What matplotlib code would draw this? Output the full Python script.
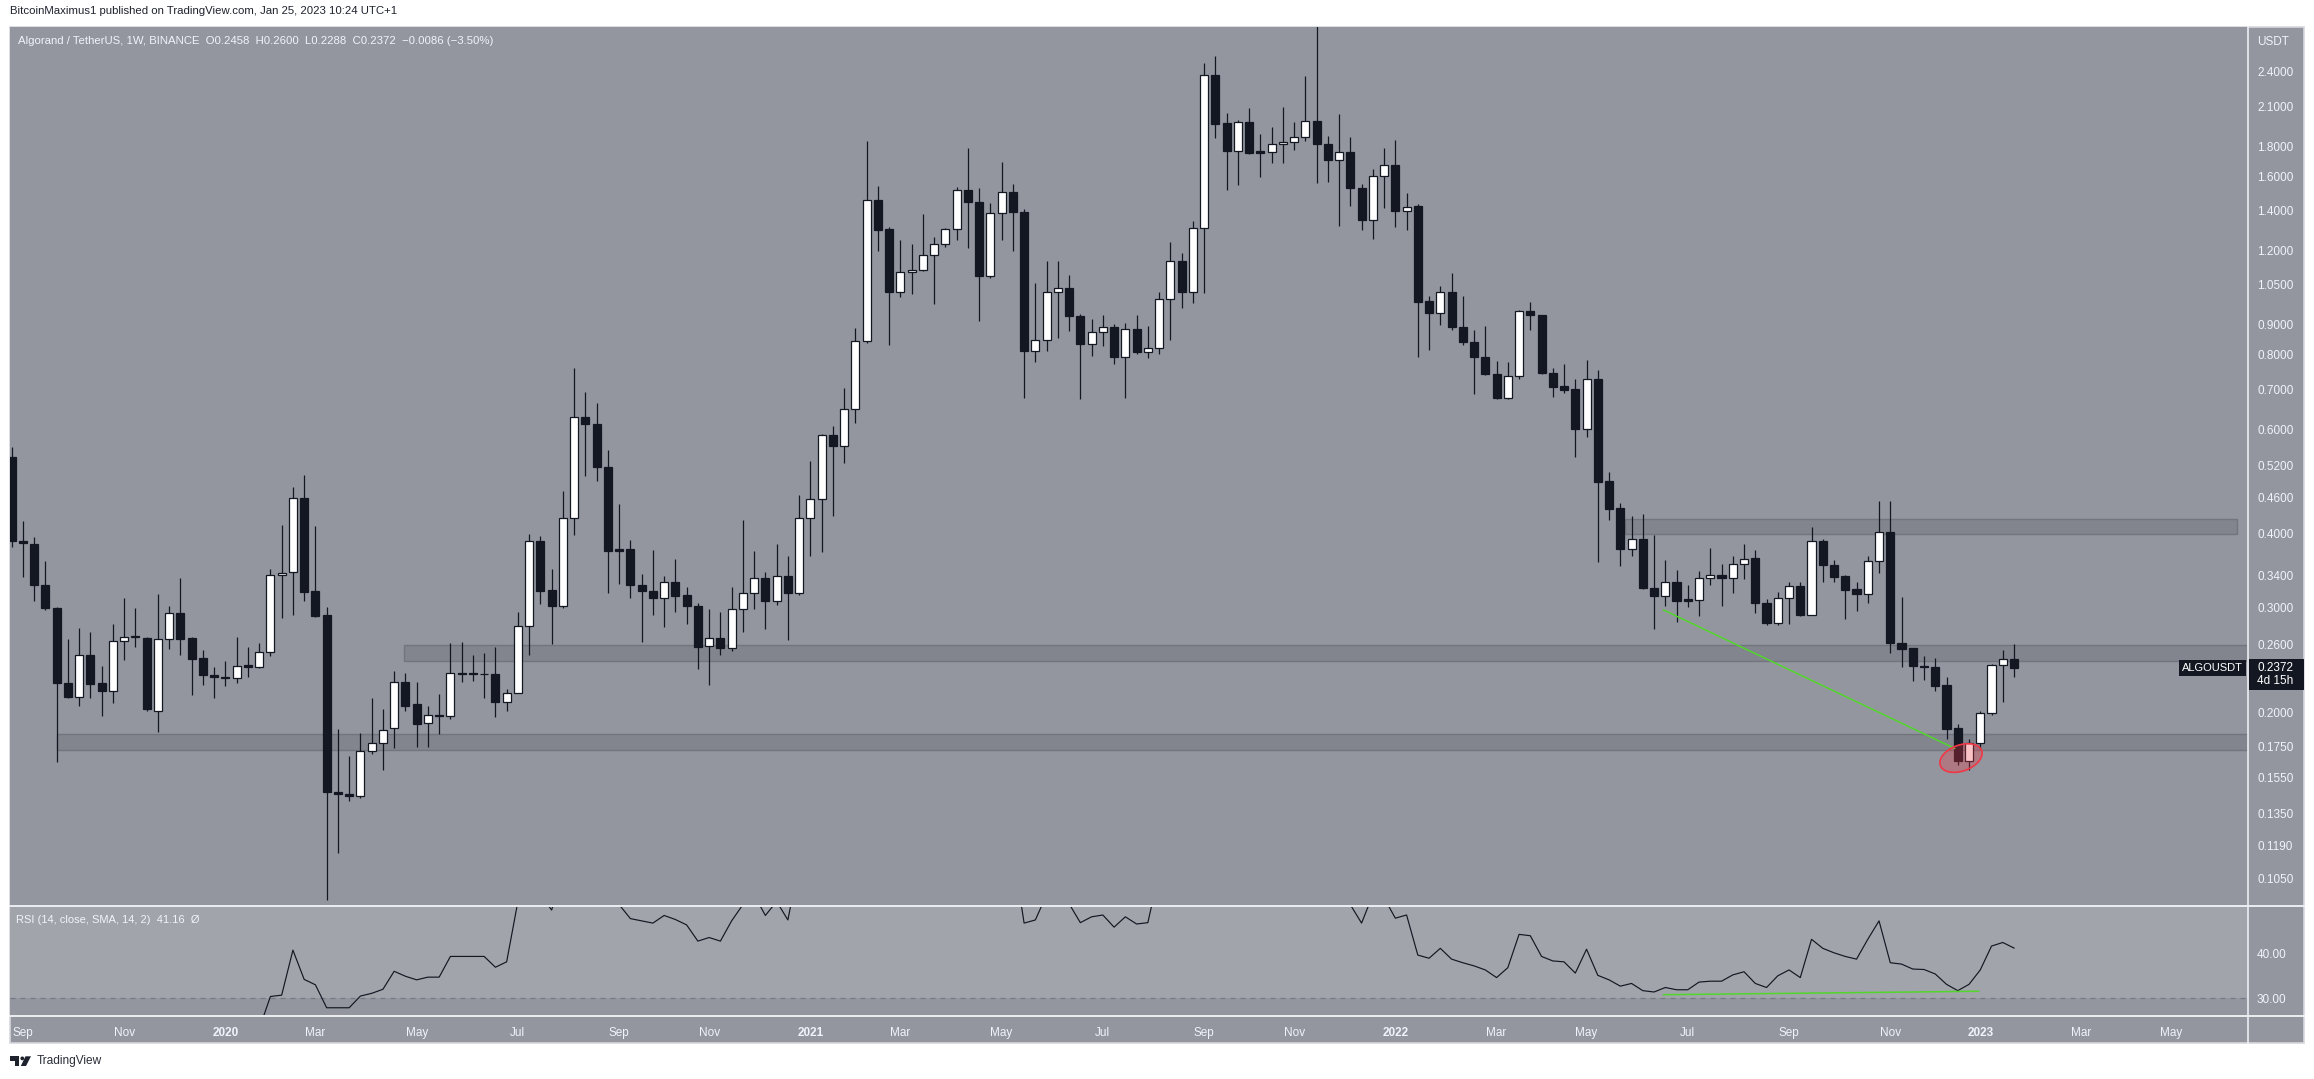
import numpy as np
import pandas as pd
import matplotlib
matplotlib.use('Agg')
import matplotlib.pyplot as plt
from matplotlib.patches import Rectangle, Ellipse, Polygon, Circle
from matplotlib.lines import Line2D
from matplotlib.transforms import IdentityTransform
from matplotlib.ticker import NullLocator

plt.rcParams['font.family'] = ['Liberation Sans', 'DejaVu Sans']

# ALGO/USDT weekly candles, first bar = week of 2019-08-26
first_week = '2019-08-26'
opens = [.539, .389, .384, .328, .300, .224, .212, .250, .224, .217,
         .264, .268, .267, .201, .266, .294, .267, .247, .231, .229,
         .228, .240, .238, .2525, .340, .344, .459, .320, .291, .1469,
         .1454, .1444, .1717, .1773, .1879, .225, .206, .1919, .198, .197,
         .233, .2323, .2321, .2318, .208, .2154, .279, .388, .3207, .302,
         .424, .628, .612, .517, .376, .376, .327, .320, .311, .331,
         .3146, .302, .258, .2666, .256, .298, .317, .336, .308, .339,
         .318, .424, .457, .586, .561, .649, .843, 1.462, 1.302, 1.020,
         1.102, 1.114, 1.177, 1.232, 1.306, 1.516, 1.451, 1.089, 1.386, 1.508,
         1.391, .813, .847, 1.021, 1.036, .932, .834, .876, .893, .794,
         .886, .8105, .823, .993, 1.154, 1.020, 1.310, 2.369, 1.967, 1.768,
         1.980, 1.765, 1.759, 1.812, 1.826, 1.864, 1.987, 1.818, 1.707, 1.759,
         1.531, 1.353, 1.601, 1.671, 1.400, 1.424, .985, .942, 1.020, .891,
         .842, .795, .743, .678, .738, .948, .933, .747, .709, .700,
         .599, .728, .490, .441, .377, .391, .324, .314, .331, .3096,
         .309, .336, .340, .336, .356, .364, .306, .2824, .312, .326,
         .292, .388, .3535, .339, .322, .316, .360, .402, .262, .256,
         .2396, .2384, .2222, .1879, .1652, .1773, .1995, .2399, .2458]
highs = [.560, .420, .395, .360, .301, .266, .277, .273, .239, .281,
         .311, .300, .268, .316, .302, .336, .268, .254, .238, .244,
         .268, .257, .261, .348, .413, .480, .502, .412, .301, .187,
         .1687, .1843, .211, .202, .235, .233, .225, .205, .2146, .261,
         .263, .250, .2515, .257, .219, .295, .399, .396, .348, .472,
         .760, .692, .664, .553, .449, .390, .342, .375, .339, .363,
         .325, .306, .298, .295, .325, .421, .374, .345, .384, .367,
         .464, .530, .589, .606, .703, .887, 1.836, 1.540, 1.314, 1.249,
         1.231, 1.383, 1.263, 1.310, 1.538, 1.790, 1.527, 1.443, 1.692, 1.551,
         1.409, 1.056, 1.151, 1.151, 1.090, .939, .921, .936, .901, .905,
         .933, .894, 1.021, 1.240, 1.188, 1.344, 2.485, 2.550, 2.047, 1.992,
         2.088, 1.886, 1.938, 2.096, 1.977, 2.362, 3.000, 1.872, 2.039, 1.864,
         1.554, 1.646, 1.786, 1.840, 1.500, 1.437, 1.005, 1.045, 1.100, 1.005,
         .881, .895, .782, .779, .951, .983, .935, .760, .773, .728,
         .785, .754, .508, .451, .428, .431, .398, .361, .347, .328,
         .346, .378, .356, .367, .384, .375, .3096, .319, .331, .332,
         .410, .392, .3605, .340, .332, .367, .453, .4545, .313, .2565,
         .249, .2464, .229, .1909, .1798, .201, .2414, .2545, .2600]
lows = [.380, .338, .308, .297, .165, .211, .205, .211, .197, .207,
        .245, .257, .201, .185, .255, .250, .214, .222, .211, .221,
        .224, .229, .237, .249, .288, .291, .308, .289, .0964, .1155,
        .1414, .1434, .1697, .1596, .1737, .201, .1747, .1747, .1838, .195,
        .225, .226, .211, .1964, .201, .215, .250, .304, .260, .299,
        .397, .501, .491, .317, .329, .312, .263, .292, .278, .295,
        .282, .236, .222, .250, .2535, .273, .298, .276, .303, .265,
        .315, .367, .372, .428, .525, .615, .839, 1.197, .832, 1.002,
        1.014, 1.107, .975, 1.218, 1.251, 1.213, .913, 1.080, 1.251, 1.197,
        .678, .778, .813, .855, .879, .673, .798, .829, .772, .676,
        .804, .792, .804, .848, .961, .977, 1.019, 1.859, 1.519, 1.548,
        1.747, 1.596, 1.685, 1.685, 1.773, 1.833, 1.559, 1.567, 1.319, 1.427,
        1.301, 1.255, 1.413, 1.316, 1.301, .795, .816, .898, .881, .831,
        .688, .740, .675, .675, .729, .882, .744, .680, .689, .538,
        .581, .358, .421, .353, .367, .322, .276, .3015, .284, .3006,
        .290, .327, .3015, .318, .335, .294, .280, .280, .281, .290,
        .2914, .331, .331, .287, .296, .306, .343, .252, .238, .2252,
        .2265, .2172, .1804, .1626, .160, .1733, .1976, .208, .2288]
closes = [.388, .385, .327, .299, .224, .212, .250, .223, .217, .264,
          .268, .2685, .202, .266, .294, .266, .246, .231, .229, .228,
          .239, .238, .2525, .340, .343, .459, .319, .290, .1469, .1454,
          .1444, .1717, .1773, .1869, .225, .205, .1909, .198, .197, .233,
          .2319, .2318, .2317, .208, .215, .279, .388, .320, .3015, .424,
          .628, .611, .517, .374, .374, .327, .320, .311, .331, .314,
          .3015, .2576, .2666, .256, .298, .317, .336, .308, .339, .318,
          .424, .457, .586, .561, .649, .843, 1.462, 1.299, 1.020, 1.103,
          1.114, 1.177, 1.232, 1.306, 1.516, 1.449, 1.088, 1.386, 1.508, 1.391,
          .813, .847, 1.020, 1.036, .932, .834, .876, .893, .794, .886,
          .810, .823, .993, 1.154, 1.020, 1.310, 2.369, 1.963, 1.768, 1.975,
          1.752, 1.754, 1.812, 1.826, 1.864, 1.987, 1.816, 1.707, 1.757, 1.531,
          1.353, 1.601, 1.671, 1.400, 1.422, .984, .942, 1.020, .891, .842,
          .795, .743, .678, .738, .948, .933, .747, .707, .699, .599,
          .728, .489, .440, .377, .391, .324, .314, .332, .308, .308,
          .336, .340, .336, .356, .363, .306, .2824, .312, .326, .292,
          .388, .3535, .338, .321, .316, .360, .402, .2616, .2555, .2394,
          .2386, .2217, .1876, .1652, .1773, .1995, .2399, .2455, .2372]

# RSI(14) as read from the lower pane (values outside the pane are estimates)
rsi = [24, 23, 21, 19, 16, 15, 19, 17, 17, 21,
       22, 23, 20, 23, 24, 23, 22, 21, 21, 21,
       22, 21, 23.2, 30.4, 30.7, 40.7, 34.2, 33.0, 27.9, 27.9,
       27.9, 30.5, 31.1, 32.0, 36.0, 34.9, 34.1, 34.7, 34.7, 39.3,
       39.3, 39.3, 39.3, 36.9, 38.1, 51.5, 62, 53, 49.6, 58,
       68, 67, 60, 53, 50.8, 47.7, 47.2, 46.7, 48.4, 47.5,
       46.3, 42.7, 43.5, 42.7, 47.2, 50.8, 53, 48.4, 51.5, 47.4,
       60, 62, 67, 65, 68, 73, 84, 76, 62, 64,
       65, 67, 68, 70, 73, 70, 58, 65, 67, 63,
       46.7, 47.4, 53, 53.5, 51, 46.8, 48.1, 48.5, 45.8, 48.1,
       46.5, 46.8, 58, 62, 57, 63, 75, 68, 63, 66,
       62, 61.5, 62, 62.5, 63, 65, 60, 57, 58, 50.8,
       46.7, 53, 52.3, 47.8, 48.5, 39.6, 38.9, 41.1, 38.7, 37.9,
       37.2, 36.3, 34.6, 36.8, 44.2, 43.9, 39.3, 38.3, 38.1, 35.6,
       40.9, 35.1, 34.1, 32.7, 33.3, 31.7, 31.4, 32.4, 31.9, 31.9,
       33.6, 33.8, 33.8, 35.2, 35.9, 33.3, 32.4, 35.0, 36.3, 34.6,
       43.1, 41.1, 40.1, 39.3, 38.7, 43.1, 47.2, 37.9, 37.6, 36.5,
       36.4, 35.4, 33.1, 31.7, 33.1, 36.3, 41.6, 42.4, 41.16]

price_ticks = [2.4, 2.1, 1.8, 1.6, 1.4, 1.2, 1.05, 0.9, 0.8, 0.7, 0.6, 0.52,
               0.46, 0.40, 0.34, 0.30, 0.26, 0.20, 0.175, 0.155, 0.135, 0.119, 0.105]
rsi_ticks = [30, 40]
tick_months = ['2019-09', '2019-11', '2020-01', '2020-03', '2020-05', '2020-07',
               '2020-09', '2020-11', '2021-01', '2021-03', '2021-05', '2021-07',
               '2021-09', '2021-11', '2022-01', '2022-03', '2022-05', '2022-07',
               '2022-09', '2022-11', '2023-01', '2023-03', '2023-05']
tick_labels = ['Sep', 'Nov', '2020', 'Mar', 'May', 'Jul', 'Sep', 'Nov', '2021', 'Mar',
               'May', 'Jul', 'Sep', 'Nov', '2022', 'Mar', 'May', 'Jul', 'Sep', 'Nov',
               '2023', 'Mar', 'May']

# drawn zones: (from, to, low price, high price); None = to the right edge
zones = [('2022-05-26', '2023-06-11', 0.400, 0.423),
         ('2020-04-26', None, 0.2435, 0.259),
         ('2019-09-23', None, 0.1723, 0.184)]
price_trend = [('2022-06-19', 0.2972), ('2022-12-17', 0.1737)]
rsi_trend = [('2022-06-19', 30.8), ('2023-01-01', 31.56)]
circle_at = ('2022-12-21', 0.1673)

W, H = 2314, 1079
BG = '#93969f'
RSI_BG = '#a1a4ab'
BAND = '#82858e'
BAND_EDGE = '#72757d'
DARK = '#131722'
LIGHT = '#f0f3fa'
SEP = '#eceef2'
GREEN = '#52d62b'


def fx(px):
    return px / W


def fy(py):
    return 1 - py / H


start = pd.Timestamp(first_week)


def wpos(d):
    return (pd.Timestamp(d) - start).days / 7


o = np.array(opens)
h = np.array(highs)
l = np.array(lows)
c = np.array(closes)
x = np.arange(len(c))

left, right, axis_right = 10, 2248, 2304
top, mid, low, bottom = 26.7, 906, 1016, 1043
x0, x1 = -0.15, 198.8

fig = plt.figure(figsize=(W / 100, H / 100), dpi=100, facecolor='white')
fig.add_artist(Rectangle((fx(left), fy(bottom)), fx(axis_right) - fx(left), fy(top) - fy(bottom),
                         transform=fig.transFigure, facecolor=BG, edgecolor='#d6d8de', lw=1.2, zorder=0))

ax = fig.add_axes([fx(left), fy(mid), fx(right) - fx(left), fy(top) - fy(mid)])
axr = fig.add_axes([fx(left), fy(low), fx(right) - fx(left), fy(mid) - fy(low)])

# main pane
ax.set_facecolor(BG)
ax.set_yscale('log')
ax.set_xlim(x0, x1)
ax.set_ylim(0.0942, 2.861)
for a, b, lo, hi in zones:
    xa = wpos(a)
    xb = wpos(b) if b else x1 + 5
    ax.add_patch(Rectangle((xa, lo), xb - xa, hi - lo, facecolor=BAND, edgecolor=BAND_EDGE,
                           lw=1.0, zorder=1))

up = c >= o
ax.vlines(x, l, h, color=DARK, lw=0.9, zorder=2)
body_lo = np.minimum(o, c)
body_h = np.maximum(np.abs(c - o), 0.0003)
ax.bar(x, body_h, bottom=body_lo, width=0.72, color=np.where(up, 'white', DARK),
       edgecolor=DARK, linewidth=0.9, zorder=3)

ax.plot([wpos(d) for d, _ in price_trend], [p for _, p in price_trend], color=GREEN, lw=1.1, zorder=4)

ax.yaxis.tick_right()
ax.set_yticks(price_ticks)
ax.set_yticklabels([f'{t:.4f}' for t in price_ticks])
ax.yaxis.set_minor_locator(NullLocator())
ax.tick_params(axis='y', length=0, pad=6.5, labelsize=8.5, labelcolor=LIGHT)
ax.tick_params(axis='x', bottom=False, labelbottom=False)
for s in ax.spines.values():
    s.set_visible(False)

# RSI pane
axr.set_facecolor(BG)
axr.set_xlim(x0, x1)
axr.set_ylim(26.07, 50.5)
axr.axhspan(30, 70, color=RSI_BG, lw=0, zorder=0)
axr.axhline(30, color='#767983', lw=0.9, dashes=(4, 4), zorder=1)
axr.plot(x, rsi, color=DARK, lw=0.85, zorder=3)
axr.plot([wpos(d) for d, _ in rsi_trend], [v for _, v in rsi_trend], color=GREEN, lw=1.1, zorder=4)
axr.yaxis.tick_right()
axr.set_yticks(rsi_ticks)
axr.set_yticklabels([f'{t:.2f}' for t in rsi_ticks])
axr.tick_params(axis='y', length=0, pad=6.5, labelsize=8.5, labelcolor=LIGHT)
tick_pos = [int(np.ceil(wpos(m + '-01'))) for m in tick_months]
axr.set_xticks(tick_pos)
axr.set_xticklabels(tick_labels)
axr.tick_params(axis='x', length=0, pad=8, labelsize=8.5, labelcolor=LIGHT)
for t in axr.get_xticklabels():
    if t.get_text().isdigit():
        t.set_fontweight('bold')
for s in axr.spines.values():
    s.set_visible(False)

# separators
fig.add_artist(Line2D([fx(right), fx(right)], [fy(top), fy(bottom)], color=SEP, lw=1.2))
fig.add_artist(Line2D([fx(left), fx(axis_right)], [fy(mid), fy(mid)], color=SEP, lw=1.4))
fig.add_artist(Line2D([fx(left), fx(axis_right)], [fy(low), fy(low)], color=SEP, lw=1.4))

# red circle around the low
cx, cy = ax.transData.transform((wpos(circle_at[0]), circle_at[1]))
fig.add_artist(Ellipse((cx, cy), 44, 26, angle=20, transform=IdentityTransform(),
                       facecolor=(0.95, 0.21, 0.27, 0.3), edgecolor='#f23645', lw=1.2, zorder=5))

# texts
fig.text(fx(10), fy(10.5), 'BitcoinMaximus1 published on TradingView.com, Jan 25, 2023 10:24 UTC+1',
         fontsize=8.2, color='#1e222d', va='center', ha='left')
chg = c[-1] - o[-1]
legend = (f'Algorand / TetherUS, 1W, BINANCE  O{o[-1]:.4f}  H{h[-1]:.4f}  L{l[-1]:.4f}  '
          f'C{c[-1]:.4f}  {chg:+.4f} ({chg / o[-1] * 100:+.2f}%)').replace('-', '\u2212')
fig.text(fx(18), fy(41), legend, fontsize=8.2, color=LIGHT, va='center', ha='left')
fig.text(fx(2257), fy(41.7), 'USDT', fontsize=8.5, color=LIGHT, va='center', ha='left')
fig.text(fx(16), fy(920), f'RSI (14, close, SMA, 14, 2)  {rsi[-1]:.2f}  \u00d8', fontsize=8,
         color=LIGHT, va='center', ha='left')

# last price tags
_, yp = ax.transData.transform((0, c[-1]))
py = H - yp
fig.add_artist(Rectangle((fx(2179), fy(py + 8)), fx(2246) - fx(2179), 16 / H,
                         transform=fig.transFigure, facecolor=DARK, edgecolor='none', zorder=6))
fig.text(fx(2212.5), fy(py), 'ALGOUSDT', fontsize=8, color='white', va='center', ha='center', zorder=7)
fig.add_artist(Rectangle((fx(right + 1), fy(py + 22)), fx(axis_right) - fx(right + 1), 31 / H,
                         transform=fig.transFigure, facecolor=DARK, edgecolor='none', zorder=6))
fig.text(fx(2257), fy(py), f'{c[-1]:.4f}', fontsize=8.5, color='white', va='center', ha='left', zorder=7)
fig.text(fx(2257), fy(py + 12.5), '4d 15h', fontsize=8.5, color='white', va='center', ha='left', zorder=7)

# TradingView mark
logo = [Rectangle((10, H - 1060.5), 9, 4.2), Rectangle((14.6, H - 1066), 4.4, 9.7),
        Circle((22.3, H - 1058.4), 1.9), Polygon([(25.5, H - 1056.3), (31, H - 1056.3), (26, H - 1066), (20.8, H - 1066)])]
for p in logo:
    p.set_transform(IdentityTransform())
    p.set_facecolor('#1e222d')
    p.set_edgecolor('none')
    fig.add_artist(p)
fig.text(fx(37), fy(1061), 'TradingView', fontsize=8.6, color='#2a2e39', va='center', ha='left')

fig.savefig('out.png', dpi=100, facecolor='white')
